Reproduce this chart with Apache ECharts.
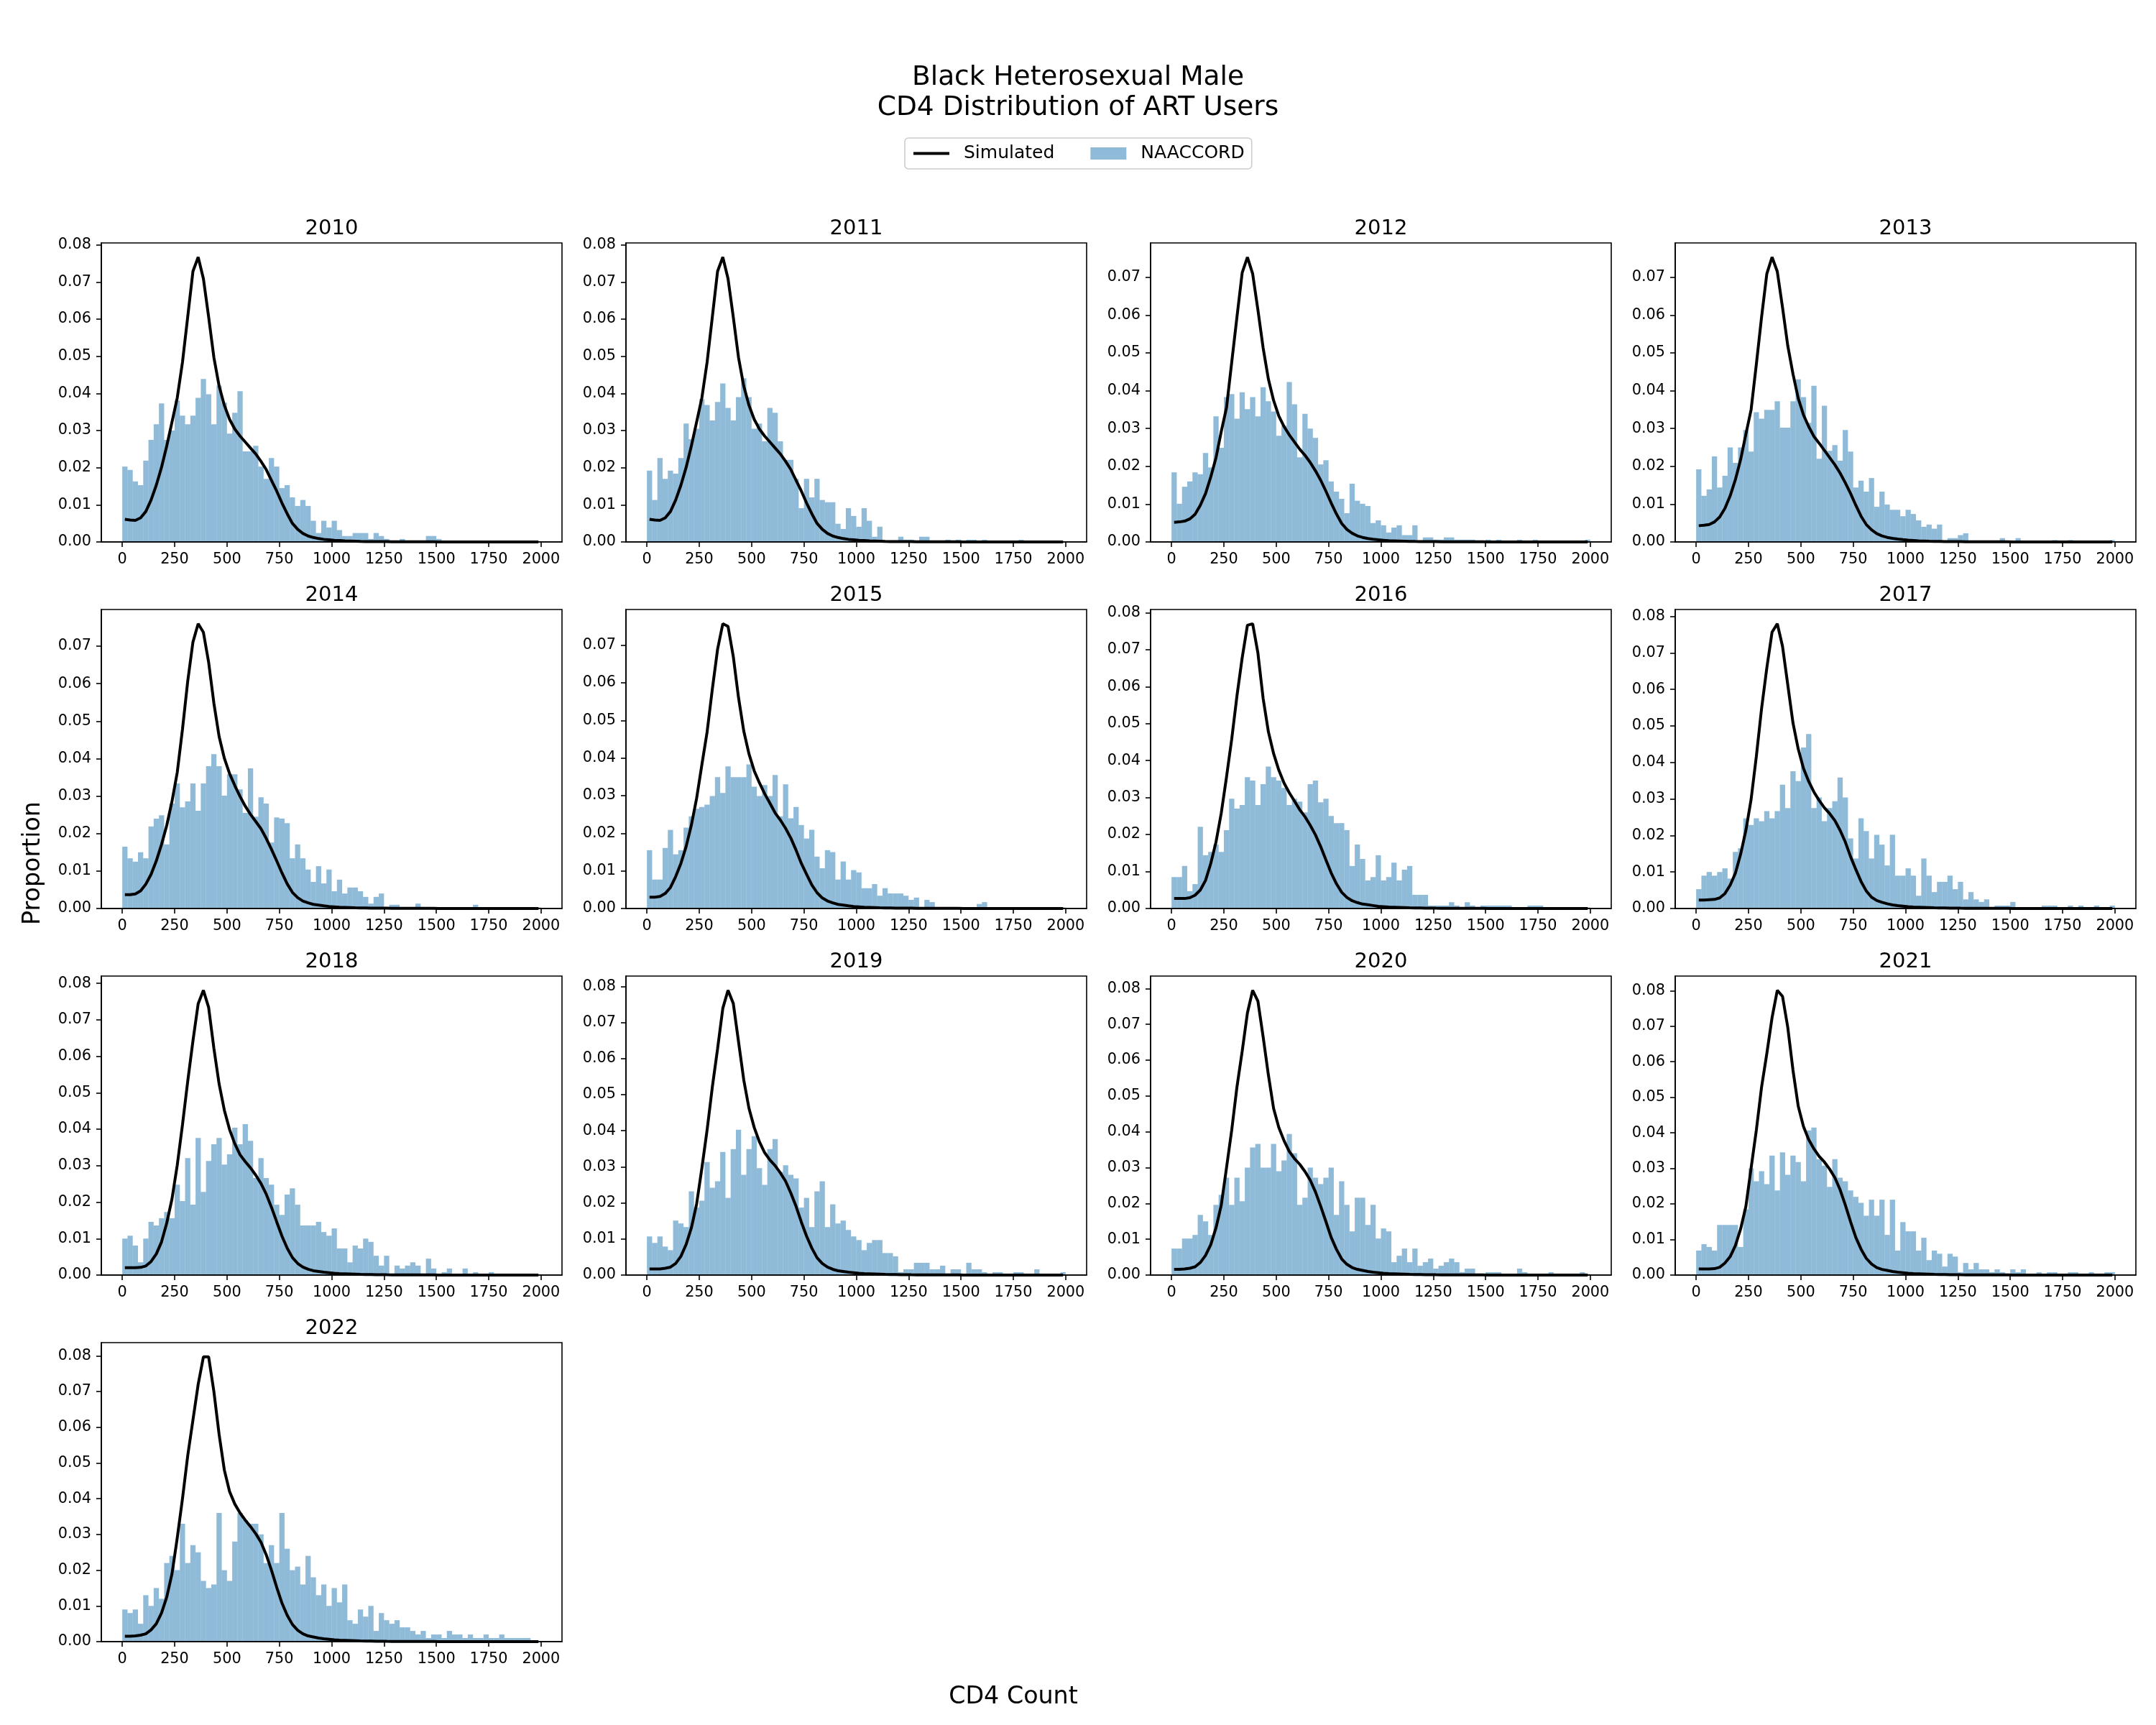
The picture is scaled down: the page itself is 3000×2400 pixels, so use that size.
<!DOCTYPE html>
<html>
<head>
<meta charset="utf-8">
<title>CD4 Distribution of ART Users</title>
<script src="https://cdn.jsdelivr.net/npm/echarts@6.0.0/dist/echarts.min.js"></script>
<style>
html, body { margin: 0; padding: 0; background: #fff; }
#chart { width: 3000px; height: 2400px; }
</style>
</head>
<body>
<div id="chart"></div>
<script>
// CD4 histograms (NAACCORD) vs simulated distribution, one panel per year

var years = [2010, 2011, 2012, 2013, 2014, 2015, 2016, 2017, 2018, 2019, 2020, 2021, 2022];

// histogram bin edges (CD4 count)
var binEdges = [0,25,50,75,100,125,150,175,200,225,250,275,300,325,350,375,400,425,450,475,
	500,525,550,575,600,625,650,675,700,725,750,775,800,825,850,875,900,925,950,975,
	1000,1025,1050,1075,1100,1125,1150,1175,1200,1225,1250,1275,1300,1325,1350,1375,1400,1425,1450,1475,
	1500,1525,1550,1575,1600,1625,1650,1675,1700,1725,1750,1775,1800,1825,1850,1875,1900,1925,1950,1975,2000];

var xTicks = [0, 250, 500, 750, 1000, 1250, 1500, 1750, 2000];
var yTicks = [0, 0.01, 0.02, 0.03, 0.04, 0.05, 0.06, 0.07, 0.08];

// NAACCORD proportions per bin
var naaccord2010 = [.0203,.0194,.0163,.0153,.0219,.0275,.0317,.0373,.0275,.0300,
	.0381,.0340,.0317,.0340,.0388,.0439,.0398,.0317,.0421,.0375,
	.0292,.0348,.0406,.0244,.0244,.0259,.0203,.0170,.0226,.0203,
	.0145,.0153,.0120,.0097,.0113,.0097,.0057,.0024,.0057,.0039,
	.0057,.0032,.0016,.0016,.0024,.0024,.0024,.0008,.0024,.0016,
	.0008,0,0,.0008,0,0,0,0,.0016,.0016,
	.0008,0,0,0,0,0,0,0,0,0,
	0,0,0,0,0,0,0,0,0,0];
var naaccord2011 = [.0192,.0113,.0226,.0170,.0192,.0184,.0226,.0319,.0277,.0305,
	.0385,.0369,.0327,.0377,.0427,.0361,.0327,.0390,.0441,.0390,
	.0305,.0319,.0271,.0361,.0348,.0271,.0221,.0221,.0170,.0091,
	.0170,.0120,.0170,.0113,.0107,.0107,.0049,.0035,.0091,.0070,
	.0041,.0091,.0057,.0014,.0041,0,0,0,.0014,.0006,
	.0006,0,.0014,.0014,0,0,0,.0006,0,.0006,
	0,.0006,.0006,0,.0006,0,0,0,0,0,
	0,.0006,0,0,0,0,0,0,0,0];
var naaccord2012 = [.0184,.0101,.0146,.0160,.0184,.0179,.0235,.0197,.0332,.0249,
	.0383,.0391,.0326,.0396,.0351,.0383,.0332,.0409,.0372,.0345,
	.0281,.0307,.0423,.0364,.0224,.0339,.0300,.0275,.0205,.0216,
	.0160,.0133,.0114,.0076,.0154,.0109,.0101,.0095,.0050,.0057,
	.0044,.0025,.0038,.0044,.0018,.0018,.0044,0,.0012,.0012,
	.0006,.0006,.0012,.0012,.0006,.0006,.0006,.0006,0,0,
	.0006,0,.0006,0,0,0,.0006,0,0,.0006,
	0,0,0,0,0,0,0,0,0,.0006];
var naaccord2013 = [.0192,.0122,.0139,.0226,.0144,.0175,.0250,.0209,.0250,.0296,
	.0239,.0343,.0326,.0349,.0349,.0372,.0302,.0302,.0372,.0430,
	.0383,.0315,.0413,.0220,.0360,.0241,.0256,.0215,.0296,.0239,
	.0144,.0162,.0133,.0169,.0093,.0133,.0099,.0085,.0085,.0068,
	.0085,.0074,.0057,.0040,.0046,.0035,.0046,0,.0010,.0010,
	.0018,.0023,0,0,0,0,0,0,.0010,0,
	0,.0010,0,0,0,0,0,0,.0005,0,
	0,.0005,0,0,0,0,0,0,0,.0005];
var naaccord2014 = [.0165,.0134,.0125,.0150,.0134,.0219,.0240,.0249,.0171,.0280,
	.0334,.0270,.0286,.0334,.0261,.0334,.0380,.0412,.0380,.0301,
	.0358,.0358,.0318,.0255,.0374,.0245,.0297,.0280,.0176,.0243,
	.0240,.0228,.0134,.0171,.0134,.0104,.0071,.0113,.0067,.0104,
	.0046,.0077,.0040,.0056,.0056,.0046,.0031,.0013,.0031,.0040,
	0,.0010,.0010,.0003,.0003,.0003,.0013,.0003,.0003,.0003,
	.0003,.0003,.0003,.0003,.0003,.0003,0,.0010,0,0,
	0,.0003,0,0,0,0,0,0,0,.0003];
var naaccord2015 = [.0155,.0077,.0077,.0161,.0209,.0144,.0155,.0215,.0245,.0265,
	.0270,.0276,.0299,.0349,.0307,.0378,.0349,.0349,.0349,.0383,
	.0324,.0299,.0328,.0299,.0355,.0245,.0330,.0240,.0270,.0222,
	.0186,.0209,.0138,.0107,.0155,.0150,.0077,.0125,.0077,.0102,
	.0096,.0054,.0054,.0065,.0034,.0054,.0040,.0040,.0040,.0034,
	.0023,.0029,.0003,.0023,.0017,.0003,.0003,.0003,.0003,.0003,
	.0003,.0003,.0003,.0012,.0017,.0003,.0003,.0003,0,0,
	0,0,0,0,0,0,0,0,0,.0003];
var naaccord2016 = [.0085,.0085,.0115,.0047,.0066,.0221,.0144,.0153,.0173,.0153,
	.0212,.0297,.0270,.0280,.0355,.0346,.0280,.0336,.0384,.0355,
	.0346,.0326,.0280,.0297,.0289,.0260,.0336,.0346,.0287,.0297,
	.0250,.0231,.0231,.0212,.0115,.0173,.0134,.0076,.0085,.0144,
	.0076,.0085,.0124,.0076,.0105,.0115,.0037,.0037,.0037,.0008,
	.0008,.0008,.0008,.0017,.0008,0,.0017,.0008,0,.0008,
	.0008,.0008,.0008,.0008,.0008,.0003,.0003,.0003,.0008,.0008,
	.0008,.0003,.0003,.0003,.0003,.0003,.0003,.0003,.0003,.0003];
var naaccord2017 = [.0053,.0090,.0100,.0090,.0100,.0110,.0082,.0155,.0165,.0247,
	.0229,.0247,.0239,.0267,.0247,.0267,.0339,.0275,.0376,.0349,
	.0441,.0478,.0275,.0304,.0239,.0275,.0294,.0359,.0304,.0192,
	.0137,.0247,.0212,.0137,.0202,.0175,.0118,.0202,.0090,.0090,
	.0110,.0090,.0035,.0137,.0090,.0045,.0073,.0073,.0090,.0053,
	.0073,.0025,.0045,.0025,.0018,.0025,.0003,.0008,.0008,.0008,
	.0018,.0003,.0003,.0003,.0003,.0003,.0008,.0008,.0008,.0003,
	0,.0008,0,.0008,0,0,.0008,0,0,.0008];
var naaccord2018 = [.0100,.0108,.0081,.0035,.0100,.0146,.0136,.0156,.0173,.0156,
	.0248,.0203,.0321,.0193,.0376,.0228,.0313,.0359,.0376,.0303,
	.0331,.0404,.0359,.0414,.0368,.0266,.0321,.0266,.0248,.0193,
	.0165,.0221,.0238,.0193,.0136,.0136,.0136,.0146,.0118,.0108,
	.0128,.0073,.0073,.0035,.0081,.0073,.0100,.0091,.0053,.0026,
	.0053,.0003,.0026,.0018,.0026,.0035,.0026,.0003,.0045,.0018,
	.0003,.0008,.0018,.0003,.0003,.0018,.0003,.0008,.0003,.0003,
	.0008,.0002,.0002,.0002,.0002,.0002,.0002,.0002,.0002,.0002];
var naaccord2019 = [.0107,.0089,.0107,.0079,.0069,.0151,.0143,.0133,.0232,.0187,
	.0206,.0313,.0242,.0260,.0341,.0214,.0349,.0403,.0278,.0349,
	.0385,.0296,.0250,.0349,.0377,.0286,.0304,.0278,.0268,.0187,
	.0214,.0133,.0232,.0260,.0133,.0196,.0143,.0151,.0125,.0107,
	.0097,.0069,.0089,.0097,.0097,.0061,.0061,.0052,.0008,.0016,
	.0016,.0034,.0034,.0034,.0016,.0016,.0026,.0003,.0016,.0016,
	.0003,.0034,.0016,.0016,.0008,.0003,.0008,.0008,.0003,.0003,
	.0008,.0008,.0003,.0003,.0016,.0003,.0003,.0003,.0003,.0008];
var naaccord2020 = [.0074,.0074,.0102,.0102,.0112,.0168,.0150,.0112,.0196,.0224,
	.0272,.0196,.0272,.0206,.0300,.0356,.0366,.0300,.0300,.0366,
	.0290,.0320,.0394,.0340,.0196,.0216,.0300,.0272,.0254,.0272,
	.0300,.0168,.0262,.0196,.0122,.0216,.0216,.0140,.0196,.0102,
	.0130,.0122,.0036,.0054,.0074,.0036,.0074,.0026,.0036,.0046,
	.0018,.0026,.0036,.0046,.0036,.0008,.0018,.0018,.0003,.0003,
	.0008,.0008,.0008,.0003,.0003,.0003,.0018,.0008,.0003,.0003,
	.0003,.0003,.0008,.0003,.0003,.0003,.0003,.0003,.0008,.0003];
var naaccord2021 = [.0069,.0087,.0079,.0069,.0141,.0141,.0141,.0141,.0079,.0185,
	.0300,.0264,.0292,.0256,.0336,.0238,.0345,.0282,.0336,.0318,
	.0264,.0407,.0415,.0326,.0308,.0248,.0326,.0274,.0264,.0238,
	.0220,.0203,.0167,.0212,.0167,.0212,.0113,.0212,.0069,.0149,
	.0123,.0123,.0069,.0105,.0042,.0069,.0060,.0024,.0060,.0052,
	.0008,.0034,.0016,.0034,.0016,.0016,.0008,.0016,.0008,.0003,
	.0016,.0008,.0016,.0003,.0003,.0008,.0003,.0008,.0008,.0003,
	.0003,.0008,.0008,.0003,.0003,.0008,.0003,.0003,.0008,.0008];
var naaccord2022 = [.009,.008,.009,.005,.013,.010,.015,.012,.022,.024,
	.020,.033,.022,.027,.025,.017,.015,.016,.036,.020,
	.017,.028,.036,.034,.033,.033,.030,.022,.027,.022,
	.036,.026,.020,.021,.016,.024,.018,.013,.016,.010,
	.015,.011,.016,.006,.005,.009,.007,.010,.003,.008,
	.006,.005,.006,.004,.004,.003,.002,.003,.001,.002,
	.002,.001,.003,.002,.002,.001,.002,.001,.001,.002,
	.001,.001,.002,.001,.001,.001,.001,.001,0,0];

// simulated proportions at bin centres
var simulated2010 = [.0061,.0059,.0058,.0065,.0082,.0113,.0153,.0201,.0259,.0323,
	.0388,.0484,.0606,.0729,.0767,.0709,.0606,.0497,.0420,.0368,
	.0330,.0304,.0285,.0269,.0253,.0237,.0217,.0195,.0166,.0137,
	.0105,.0076,.0050,.0034,.0023,.0016,.0012,.0009,.0007,.0006,
	.00045,.0004,.0003,.00025,.0002,.00015,.00012,.0001,.0001,.00008,
	.00008,.00007,.00006,.00005,.00005,.00004,.00004,.00003,.00003,.00003,
	.00002,.00002,.00002,.00002,.00002,.00001,.00001,.00001,.00001,.00001,
	.00001,.00001,.00001,.00001,0,0,0,0,0,0];
var simulated2011 = [.0061,.0059,.0058,.0065,.0082,.0113,.0153,.0201,.0259,.0323,
	.0388,.0484,.0606,.0729,.0767,.0709,.0606,.0497,.0420,.0368,
	.0330,.0304,.0285,.0269,.0253,.0237,.0217,.0195,.0166,.0137,
	.0105,.0076,.0050,.0034,.0023,.0016,.0012,.0009,.0007,.0006,
	.00045,.0004,.0003,.00025,.0002,.00015,.00012,.0001,.0001,.00008,
	.00008,.00007,.00006,.00005,.00005,.00004,.00004,.00003,.00003,.00003,
	.00002,.00002,.00002,.00002,.00002,.00001,.00001,.00001,.00001,.00001,
	.00001,.00001,.00001,.00001,0,0,0,0,0,0];
var simulated2012 = [.0052,.0053,.0055,.0061,.0073,.0097,.0128,.0172,.0223,.0292,
	.0355,.0475,.0595,.0712,.0753,.0709,.0614,.0513,.0431,.0374,
	.0333,.0305,.0283,.0264,.0245,.0229,.0210,.0188,.0163,.0134,
	.0103,.0074,.0049,.0033,.0023,.0016,.0012,.0009,.0007,.00055,
	.00045,.00035,.0003,.00025,.0002,.00015,.00012,.0001,.0001,.00008,
	.00008,.00007,.00006,.00005,.00005,.00004,.00004,.00003,.00003,.00003,
	.00002,.00002,.00002,.00002,.00002,.00001,.00001,.00001,.00001,.00001,
	.00001,.00001,.00001,.00001,0,0,0,0,0,0];
var simulated2013 = [.0043,.0044,.0046,.0053,.0066,.0089,.0122,.0165,.0218,.0285,
	.0350,.0470,.0595,.0709,.0753,.0715,.0620,.0519,.0444,.0380,
	.0336,.0305,.0279,.0261,.0242,.0223,.0204,.0182,.0156,.0128,
	.0097,.0068,.0046,.0032,.0022,.0016,.0012,.00095,.00075,.0006,
	.00048,.0004,.0003,.00025,.0002,.00016,.00013,.0001,.0001,.00008,
	.00008,.00007,.00006,.00005,.00005,.00004,.00004,.00003,.00003,.00003,
	.00002,.00002,.00002,.00002,.00002,.00001,.00001,.00001,.00001,.00001,
	.00001,.00001,.00001,.00001,0,0,0,0,0,0];
var simulated2014 = [.0037,.0037,.0039,.0047,.0065,.0091,.0127,.0171,.0222,.0286,
	.0363,.0478,.0606,.0711,.0760,.0737,.0657,.0548,.0459,.0401,
	.0360,.0328,.0299,.0273,.0251,.0232,.0213,.0187,.0158,.0127,
	.0095,.0066,.0043,.0029,.0020,.0015,.0011,.0009,.0007,.00055,
	.00045,.00035,.0003,.00025,.0002,.00016,.00013,.0001,.0001,.00008,
	.00008,.00007,.00006,.00005,.00005,.00004,.00004,.00003,.00003,.00003,
	.00002,.00002,.00002,.00002,.00002,.00001,.00001,.00001,.00001,.00001,
	.00001,.00001,.00001,.00001,0,0,0,0,0,0];
var simulated2015 = [.0030,.0030,.0032,.0040,.0056,.0085,.0120,.0165,.0222,.0293,
	.0382,.0469,.0583,.0689,.0757,.0750,.0670,.0561,.0472,.0411,
	.0366,.0334,.0305,.0280,.0254,.0235,.0213,.0187,.0155,.0120,
	.0091,.0063,.0042,.0028,.0020,.0015,.0011,.0009,.0007,.00055,
	.00045,.00035,.0003,.00025,.0002,.00016,.00013,.0001,.0001,.00008,
	.00008,.00007,.00006,.00005,.00005,.00004,.00004,.00003,.00003,.00003,
	.00002,.00002,.00002,.00002,.00002,.00001,.00001,.00001,.00001,.00001,
	.00001,.00001,.00001,.00001,0,0,0,0,0,0];
var simulated2016 = [.0027,.0027,.0027,.0029,.0036,.0050,.0076,.0122,.0180,.0258,
	.0355,.0458,.0575,.0678,.0766,.0770,.0691,.0568,.0478,.0419,
	.0374,.0339,.0313,.0290,.0267,.0248,.0225,.0199,.0167,.0131,
	.0096,.0067,.0044,.0030,.0021,.0016,.0012,.0010,.0008,.0006,
	.0005,.0004,.00035,.0003,.00025,.0002,.00016,.00013,.0001,.0001,
	.00008,.00007,.00006,.00005,.00005,.00004,.00004,.00003,.00003,.00003,
	.00002,.00002,.00002,.00002,.00002,.00001,.00001,.00001,.00001,.00001,
	.00001,.00001,.00001,.00001,0,0,0,0,0,0];
var simulated2017 = [.0023,.0023,.0024,.0025,.0029,.0041,.0064,.0097,.0149,.0214,
	.0299,.0417,.0548,.0659,.0757,.0780,.0718,.0613,.0508,.0437,
	.0384,.0348,.0319,.0296,.0276,.0260,.0241,.0214,.0182,.0142,
	.0107,.0074,.0048,.0031,.0022,.0017,.0013,.0010,.0008,.00065,
	.0005,.0004,.00035,.0003,.00025,.0002,.00016,.00013,.0001,.0001,
	.00008,.00007,.00006,.00005,.00005,.00004,.00004,.00003,.00003,.00003,
	.00002,.00002,.00002,.00002,.00002,.00001,.00001,.00001,.00001,.00001,
	.00001,.00001,.00001,.00001,0,0,0,0,0,0];
var simulated2018 = [.0020,.0020,.0020,.0021,.0025,.0037,.0058,.0091,.0143,.0209,
	.0301,.0412,.0531,.0642,.0744,.0781,.0734,.0622,.0524,.0452,
	.0399,.0360,.0330,.0311,.0294,.0274,.0251,.0222,.0186,.0146,
	.0107,.0074,.0048,.0032,.0022,.0016,.0012,.0010,.0008,.00065,
	.0005,.0004,.00035,.0003,.00025,.0002,.00016,.00013,.0001,.0001,
	.00008,.00007,.00006,.00005,.00005,.00004,.00004,.00003,.00003,.00003,
	.00002,.00002,.00002,.00002,.00002,.00001,.00001,.00001,.00001,.00001,
	.00001,.00001,.00001,.00001,0,0,0,0,0,0];
var simulated2019 = [.0017,.0017,.0017,.0019,.0022,.0032,.0052,.0085,.0131,.0197,
	.0296,.0402,.0521,.0627,.0739,.0789,.0753,.0647,.0541,.0462,
	.0409,.0369,.0339,.0319,.0303,.0283,.0260,.0227,.0190,.0147,
	.0108,.0075,.0048,.0032,.0022,.0016,.0012,.0010,.0008,.00065,
	.0005,.0004,.00035,.0003,.00025,.0002,.00016,.00013,.0001,.0001,
	.00008,.00007,.00006,.00005,.00005,.00004,.00004,.00003,.00003,.00003,
	.00002,.00002,.00002,.00002,.00002,.00001,.00001,.00001,.00001,.00001,
	.00001,.00001,.00001,.00001,0,0,0,0,0,0];
var simulated2020 = [.0016,.0016,.0017,.0019,.0023,.0035,.0055,.0085,.0132,.0195,
	.0299,.0405,.0525,.0625,.0732,.0795,.0765,.0665,.0559,.0465,
	.0412,.0375,.0345,.0325,.0309,.0289,.0265,.0232,.0192,.0149,
	.0105,.0072,.0045,.0030,.0021,.0016,.0013,.0010,.0008,.00065,
	.0005,.0004,.00035,.0003,.00025,.0002,.00016,.00013,.0001,.0001,
	.00008,.00007,.00006,.00005,.00005,.00004,.00004,.00003,.00003,.00003,
	.00002,.00002,.00002,.00002,.00002,.00001,.00001,.00001,.00001,.00001,
	.00001,.00001,.00001,.00001,0,0,0,0,0,0];
var simulated2021 = [.0017,.0017,.0017,.0018,.0022,.0034,.0052,.0083,.0130,.0193,
	.0301,.0408,.0529,.0623,.0724,.0801,.0784,.0697,.0576,.0475,
	.0418,.0381,.0355,.0334,.0318,.0298,.0274,.0240,.0197,.0150,
	.0106,.0073,.0047,.0031,.0021,.0016,.0013,.0010,.0008,.00065,
	.0005,.0004,.00035,.0003,.00025,.0002,.00016,.00013,.0001,.0001,
	.00008,.00007,.00006,.00005,.00005,.00004,.00004,.00003,.00003,.00003,
	.00002,.00002,.00002,.00002,.00002,.00001,.00001,.00001,.00001,.00001,
	.00001,.00001,.00001,.00001,0,0,0,0,0,0];
var simulated2022 = [.0015,.0015,.0016,.0018,.0022,.0033,.0050,.0080,.0125,.0190,
	.0290,.0400,.0520,.0620,.0720,.0797,.0797,.0700,.0580,.0480,
	.0420,.0385,.0360,.0340,.0322,.0302,.0278,.0243,.0200,.0152,
	.0108,.0074,.0048,.0032,.0022,.0016,.0013,.0010,.0008,.00065,
	.0005,.0004,.00035,.0003,.00025,.0002,.00016,.00013,.0001,.0001,
	.00008,.00007,.00006,.00005,.00005,.00004,.00004,.00003,.00003,.00003,
	.00002,.00002,.00002,.00002,.00002,.00001,.00001,.00001,.00001,.00001,
	.00001,.00001,.00001,.00001,0,0,0,0,0,0];

var naaccord = [naaccord2010, naaccord2011, naaccord2012, naaccord2013, naaccord2014, naaccord2015,
	naaccord2016, naaccord2017, naaccord2018, naaccord2019, naaccord2020, naaccord2021, naaccord2022];
var simulated = [simulated2010, simulated2011, simulated2012, simulated2013, simulated2014, simulated2015,
	simulated2016, simulated2017, simulated2018, simulated2019, simulated2020, simulated2021, simulated2022];

var FONT = 'DejaVu Sans';
var BAR_COLOR = 'rgba(31,119,180,0.5)';
var GRID_W = 641, GRID_H = 416;

function renderBin(params, api){
	var p0 = api.coord([api.value(0), 0]);
	var p1 = api.coord([api.value(1), api.value(2)]);
	return {
		type: 'rect',
		shape: { x: p0[0], y: p1[1], width: p1[0] - p0[0], height: p0[1] - p1[1] },
		style: { fill: BAR_COLOR }
	};
}

var grids = [], xAxes = [], yAxes = [], series = [], texts = [];

years.forEach(function(year, i){
	var col = i % 4, row = Math.floor(i / 4);
	var left = 141 + 730 * col, top = 338 + 510 * row;
	var bars = naaccord[i], line = simulated[i];
	// matplotlib-style autoscale: 5% headroom over the tallest mark
	var ymax = Math.max(Math.max.apply(null, bars), Math.max.apply(null, line)) * 1.05;
	var yt = yTicks.filter(function(v){ return v <= ymax + 1e-9; });

	grids.push({ left: left, top: top, width: GRID_W, height: GRID_H, show: true,
		borderColor: '#000', borderWidth: 1.6, backgroundColor: 'transparent', z: 10,
		containLabel: false, outerBoundsMode: 'none' });

	xAxes.push({ type: 'value', gridIndex: i, min: -100, max: 2100, z: 10,
		axisLine: { show: true, onZero: false, lineStyle: { color: '#000', width: 1.6 } },
		axisTick: { show: true, length: 7, customValues: xTicks, lineStyle: { color: '#000', width: 1.6 } },
		axisLabel: { customValues: xTicks, margin: 14, fontFamily: FONT, fontSize: 20.8, color: '#000',
			formatter: function(v){ return String(v); } },
		splitLine: { show: false } });

	yAxes.push({ type: 'value', gridIndex: i, min: 0, max: ymax, z: 10,
		axisLine: { show: true, onZero: false, lineStyle: { color: '#000', width: 1.6 } },
		axisTick: { show: true, length: 7, customValues: yt, lineStyle: { color: '#000', width: 1.6 } },
		axisLabel: { customValues: yt, margin: 14, fontFamily: FONT, fontSize: 20.8, color: '#000',
			formatter: function(v){ return v.toFixed(2); } },
		splitLine: { show: false } });

	series.push({ type: 'custom', name: 'NAACCORD', xAxisIndex: i, yAxisIndex: i, z: 1,
		itemStyle: { color: BAR_COLOR }, renderItem: renderBin, encode: { x: [0, 1], y: 2 },
		data: bars.map(function(v, k){ return [binEdges[k], binEdges[k + 1], v]; }) });

	series.push({ type: 'line', name: 'Simulated', xAxisIndex: i, yAxisIndex: i, z: 3,
		symbol: 'none', lineStyle: { color: '#000', width: 4 }, itemStyle: { color: '#000' },
		data: line.map(function(v, k){ return [(binEdges[k] + binEdges[k + 1]) / 2, v]; }) });

	texts.push({ type: 'text', x: left + GRID_W / 2, y: top - 20,
		style: { text: String(year), font: '29px ' + FONT, fill: '#000', textAlign: 'center', textVerticalAlign: 'middle' } });
});

texts.push({ type: 'text', x: 1500, y: 108,
	style: { text: 'Black Heterosexual Male', font: '37.5px ' + FONT, fill: '#000', textAlign: 'center', textVerticalAlign: 'middle' } });
texts.push({ type: 'text', x: 1500, y: 150,
	style: { text: 'CD4 Distribution of ART Users', font: '37.5px ' + FONT, fill: '#000', textAlign: 'center', textVerticalAlign: 'middle' } });
texts.push({ type: 'text', x: 1410, y: 2361,
	style: { text: 'CD4 Count', font: '33.3px ' + FONT, fill: '#000', textAlign: 'center', textVerticalAlign: 'middle' } });
texts.push({ type: 'text', x: 46, y: 1201, rotation: Math.PI / 2,
	style: { text: 'Proportion', font: '33.3px ' + FONT, fill: '#000', textAlign: 'center', textVerticalAlign: 'middle' } });

var chart = echarts.init(document.getElementById('chart'));
chart.setOption({
	animation: false,
	backgroundColor: '#fff',
	legend: {
		left: 1259, top: 192, orient: 'horizontal', selectedMode: false,
		padding: [9, 10, 9, 10], itemWidth: 50, itemHeight: 17, itemGap: 50,
		borderColor: '#ccc', borderWidth: 1.6, borderRadius: 5, backgroundColor: 'rgba(255,255,255,0.8)',
		textStyle: { fontFamily: FONT, fontSize: 25, color: '#000', padding: [0, 0, 0, 15] },
		data: [
			// hide the marker dot, keep the plain line handle
			{ name: 'Simulated', itemStyle: { opacity: 0 }, lineStyle: { color: '#000', width: 4, opacity: 1 } },
			{ name: 'NAACCORD', icon: 'rect', itemStyle: { color: BAR_COLOR } }
		]
	},
	grid: grids,
	xAxis: xAxes,
	yAxis: yAxes,
	series: series,
	graphic: { elements: texts }
});
</script>
</body>
</html>
